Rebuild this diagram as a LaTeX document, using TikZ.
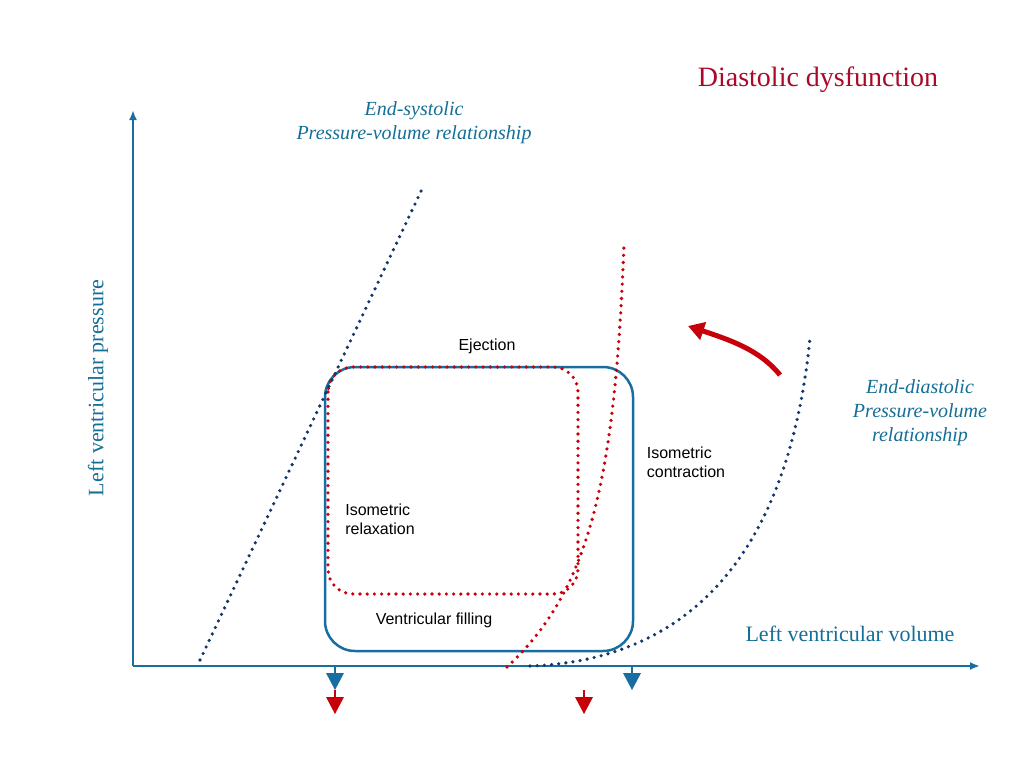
\documentclass[tikz,border=0pt]{standalone}
\usetikzlibrary{arrows.meta}
\usepackage{fontspec}
\setmainfont{Liberation Serif}
\setsansfont{Liberation Sans}
\definecolor{ax}{RGB}{24,110,160}
\definecolor{navy}{RGB}{20,55,105}
\definecolor{rd}{RGB}{200,0,10}
\definecolor{ttl}{RGB}{170,10,40}
\definecolor{lbl}{RGB}{20,110,150}
\begin{document}
\begin{tikzpicture}[x=1pt,y=-1pt,
  dots/.style={line width=3.6pt,line cap=round,dash pattern=on 0pt off 7.2pt},
  tri/.style={fill=#1,draw=none},
  itl/.style={font=\fontsize{20}{24}\selectfont\itshape,text=lbl,align=center},
  sl/.style={font=\sffamily\fontsize{16}{19}\selectfont,align=left}]
\useasboundingbox (0,0) rectangle (1024,768);
% axes
\coordinate (o) at (133,666);
\coordinate (ytop) at (133,110);
\coordinate (xend) at (980,666);
\draw[ax,line width=2.5pt,-{Latex[length=10pt,width=8pt]}] (o) -- (ytop);
\draw[ax,line width=2.5pt,-{Latex[length=10pt,width=8pt]}] (o) -- (xend);
% boxes
\draw[ax,line width=2.5pt,rounded corners=30pt] (325,367) rectangle (633,651);
\draw[rd,dots,rounded corners=25pt] (328,367) rectangle (578,594);
% ESPVR
\draw[navy,dots] (200,660) -- (423,187);
% EDPVR red
\draw[rd,dots] (507,667) .. controls (590,590) and (615,480) .. (624,244);
% EDPVR blue
\draw[navy,dots] (530,666) .. controls (700,660) and (790,540) .. (810,338);
% red arrow
\draw[rd,line width=5pt,-{Triangle[length=16pt,width=18pt]}] (780,375) .. controls (760,350) and (730,340) .. (688,326);
% bottom arrows
\fill[ax] (326,673) -- (344,673) -- (335,690) -- cycle;
\draw[ax,line width=2pt] (335,667) -- (335,675);
\fill[rd] (326,697) -- (344,697) -- (335,714) -- cycle;
\draw[rd,line width=2pt] (335,690) -- (335,699);
\fill[rd] (575,697) -- (593,697) -- (584,714) -- cycle;
\draw[rd,line width=2pt] (584,690) -- (584,699);
\fill[ax] (623,673) -- (641,673) -- (632,690) -- cycle;
\draw[ax,line width=2pt] (632,667) -- (632,675);
% texts
\node[text=ttl,font=\fontsize{28}{32}\selectfont] (t) at (818,80) {Diastolic dysfunction};
\node[itl] (es) at (414,123) {End-systolic\\Pressure-volume relationship};
\node[itl] (ed) at (920,413) {End-diastolic\\Pressure-volume\\relationship};
\node[text=lbl,font=\fontsize{22}{26}\selectfont,rotate=90] (yl) at (98,388) {Left ventricular pressure};
\node[text=lbl,font=\fontsize{22}{26}\selectfont] (xl) at (850,634) {Left ventricular volume};
\node[sl] (ej) at (487,346) {Ejection};
\node[sl] (ic) at (686,462) {Isometric\\contraction};
\node[sl] (ir) at (380,519) {Isometric\\relaxation};
\node[sl] (vf) at (434,620) {Ventricular filling};
\end{tikzpicture}
\end{document}
